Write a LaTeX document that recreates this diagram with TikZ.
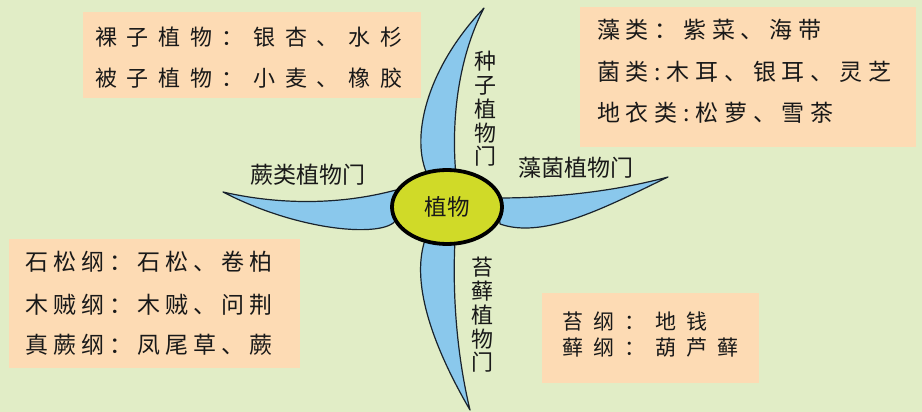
\documentclass[tikz,border=0pt]{standalone}
\usepackage{fontspec}
\usetikzlibrary{shapes.geometric}
\newfontfamily\cjk{Noto Sans CJK SC}
\newfontfamily\kaiA[LetterSpace=44]{Noto Sans CJK SC}
\newfontfamily\kaiB[LetterSpace=25]{Noto Sans CJK SC}
\newfontfamily\kaiC[LetterSpace=22]{Noto Sans CJK SC}
\newfontfamily\kaiD[LetterSpace=48]{Noto Sans CJK SC}
\definecolor{bg}{RGB}{225,237,198}
\definecolor{peach}{RGB}{253,219,180}
\definecolor{petal}{RGB}{138,200,236}
\definecolor{core}{RGB}{208,218,40}
\definecolor{ink}{RGB}{25,25,25}
\definecolor{edge}{RGB}{25,35,45}
\tikzset{
  infobox/.style={fill=peach, draw=none},
  petalshape/.style={fill=petal, draw=edge, line width=1.2pt, line join=round},
  boxtext/.style={anchor=west, inner sep=0pt, text=ink},
  phylum/.style={inner sep=0pt, text=ink, font={\cjk\fontsize{23}{24}\selectfont}},
  vphylum/.style={inner sep=0pt, text=ink, align=center, font={\cjk\fontsize{22}{23.8}\selectfont}}
}
\begin{document}
\begin{tikzpicture}[x=1pt, y=-1pt]
\fill[bg] (0,0) rectangle (922,412);
\useasboundingbox (0,0) rectangle (922,412);

% boxes
\fill[infobox] (83,12) rectangle (421,98);
\fill[infobox] (580,7) rectangle (916,147);
\fill[infobox] (9,239) rectangle (300,368);
\fill[infobox] (542,293) rectangle (759,383);

% box texts
\node[boxtext, font={\kaiA\fontsize{22}{24}\selectfont}] (tl1) at (95,37) {裸子植物：银杏、水杉};
\node[boxtext, font={\kaiA\fontsize{22}{24}\selectfont}] (tl2) at (95,78) {被子植物：小麦、橡胶};

\node[boxtext, font={\kaiB\fontsize{23}{24}\selectfont}] (tr1) at (597,30) {藻类：紫菜、海带};
\node[boxtext, font={\kaiB\fontsize{23}{24}\selectfont}] (tr2) at (597,72) {菌类:木耳、银耳、灵芝};
\node[boxtext, font={\kaiB\fontsize{23}{24}\selectfont}] (tr3) at (597,113) {地衣类:松萝、雪茶};

\node[boxtext, font={\kaiC\fontsize{23}{24}\selectfont}] (bl1) at (25,262) {石松纲：石松、卷柏};
\node[boxtext, font={\kaiC\fontsize{23}{24}\selectfont}] (bl2) at (25,305) {木贼纲：木贼、问荆};
\node[boxtext, font={\kaiC\fontsize{23}{24}\selectfont}] (bl3) at (25,345) {真蕨纲：凤尾草、蕨};

\node[boxtext, font={\kaiD\fontsize{21}{24}\selectfont}] (br1) at (562,322) {苔纲：地钱};
\node[boxtext, font={\kaiD\fontsize{21}{24}\selectfont}] (br2) at (562,348) {藓纲：葫芦藓};

% petals
\path[petalshape] (428,176) .. controls (410,140) and (425,70) .. (484,8)
  .. controls (462,50) and (450,110) .. (456,176) -- cycle;
\path[petalshape] (498,198) .. controls (560,198) and (620,190) .. (668,177)
  .. controls (610,205) and (545,240) .. (500,224) -- cycle;
\path[petalshape] (425,240) .. controls (410,285) and (435,350) .. (470,410)
  .. controls (458,360) and (452,300) .. (455,240) -- cycle;
\path[petalshape] (223,192) .. controls (280,205) and (340,205) .. (396,190)
  -- (396,220) .. controls (385,238) and (300,232) .. (223,192) -- cycle;

% centre
\node[ellipse, draw=black, line width=3.8pt, fill=core, minimum width=110pt, minimum height=74pt, inner sep=0pt] (core) at (447,207) {};
\node[phylum, font={\cjk\fontsize{22.5}{24}\selectfont}] (coretext) at (447,207) {植物};

% labels
\node[vphylum] (seed) at (485,109) {种\\子\\植\\物\\门};
\node[vphylum] (moss) at (482,315) {苔\\藓\\植\\物\\门};
\node[phylum] (algae) at (576,168) {藻菌植物门};
\node[phylum] (fern) at (308,175) {蕨类植物门};
\end{tikzpicture}
\end{document}
